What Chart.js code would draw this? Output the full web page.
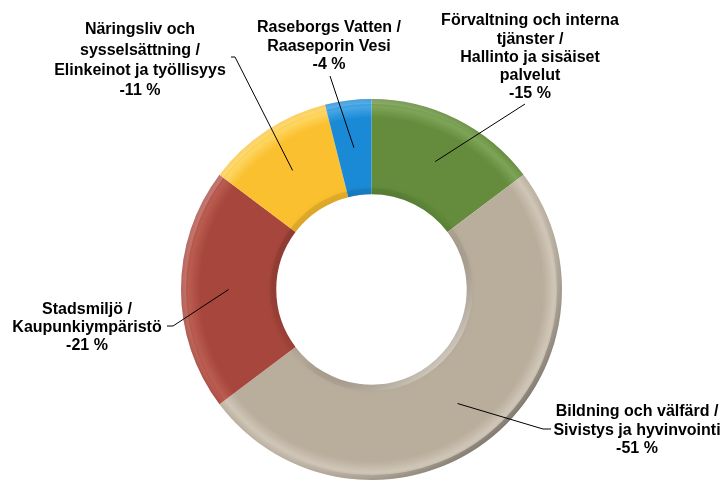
<!DOCTYPE html>
<html lang="sv">
  <head>
    <meta charset="UTF-8"/>
    <title>Andel per sektor</title>
    <style>
      html, body { margin: 0; padding: 0; background: #fff; }
      #wrap { width: 723px; height: 484px; }
    </style>
  </head>
  <body>
  <div id="wrap">
    <canvas id="myChart" width="723" height="484"></canvas>
  </div>
  <script src="https://cdn.jsdelivr.net/npm/chart.js"></script>
  <script>
    // slices, clockwise from 12 o'clock
    var categories = [
      ['Förvaltning och interna', 'tjänster /', 'Hallinto ja sisäiset', 'palvelut'],
      ['Bildning och välfärd /', 'Sivistys ja hyvinvointi'],
      ['Stadsmiljö /', 'Kaupunkiympäristö'],
      ['Näringsliv och', 'sysselsättning /', 'Elinkeinot ja työllisyys'],
      ['Raseborgs Vatten /', 'Raaseporin Vesi']
    ];
    var values = [-15, -51, -21, -11, -4];

    // [light, base, dark] per slice
    var shades = [
      ['#7ea458', '#648c3c', '#5a8236'],
      ['#d0c6b7', '#b9ad9c', '#b0a493'],
      ['#bb5c51', '#a6463c', '#9c4037'],
      ['#fdd660', '#fbc030', '#f2b72a'],
      ['#46a6e6', '#1a8ad6', '#1782cb']
    ];

    // text centre x, first line y, line step, leader line points (text side)
    var labelPos = [
      { x: 530, y: 21, step: 18.2, line: [[525, 104]] },
      { x: 637, y: 412, step: 18.5, line: [[543, 429], [551, 429]] },
      { x: 87, y: 310, step: 18, line: [[173, 326], [167, 326]] },
      { x: 140, y: 30, step: 20.3, line: [[235, 57], [231, 57]] },
      { x: 329, y: 28, step: 18.5, line: [[330, 76]] }
    ];

    function ring(chart) {
      var ca = chart.chartArea;
      var r = Math.min(ca.right - ca.left, ca.bottom - ca.top) / 2;
      return { cx: (ca.left + ca.right) / 2, cy: (ca.top + ca.bottom) / 2, r: r };
    }

    function shade(ctx) {
      var s = shades[ctx.dataIndex];
      if (!ctx.chart.chartArea) return s[1];
      var g0 = ring(ctx.chart);
      var g = ctx.chart.ctx.createRadialGradient(g0.cx, g0.cy, 0, g0.cx, g0.cy, g0.r);
      g.addColorStop(0.5, s[2]);
      g.addColorStop(0.55, s[1]);
      g.addColorStop(0.9, s[1]);
      g.addColorStop(0.96, s[0]);
      g.addColorStop(1, s[1]);
      return g;
    }

    // soft bevel: light from top-left, shadow to bottom-right
    const bevelPlugin = {
      id: 'bevel',
      afterDatasetsDraw(chart) {
        var c = chart.ctx;
        var g0 = ring(chart);
        var d = g0.r * 0.75;
        c.save();
        var outer = c.createLinearGradient(g0.cx - d, g0.cy - d, g0.cx + d, g0.cy + d);
        outer.addColorStop(0, 'rgba(255,255,255,0.25)');
        outer.addColorStop(0.5, 'rgba(255,255,255,0)');
        outer.addColorStop(1, 'rgba(0,0,0,0.35)');
        c.strokeStyle = outer;
        c.lineWidth = 5;
        c.beginPath();
        c.arc(g0.cx, g0.cy, g0.r - 2.5, 0, Math.PI * 2);
        c.stroke();
        var inner = c.createLinearGradient(g0.cx - d / 2, g0.cy - d / 2, g0.cx + d / 2, g0.cy + d / 2);
        inner.addColorStop(0, 'rgba(0,0,0,0.1)');
        inner.addColorStop(0.5, 'rgba(0,0,0,0)');
        inner.addColorStop(1, 'rgba(255,255,255,0.35)');
        c.strokeStyle = inner;
        c.lineWidth = 6;
        c.beginPath();
        c.arc(g0.cx, g0.cy, g0.r * 0.5 + 3, 0, Math.PI * 2);
        c.stroke();
        c.restore();
      }
    };

    const calloutPlugin = {
      id: 'callouts',
      afterDraw(chart) {
        var c = chart.ctx;
        var arcs = chart.getDatasetMeta(0).data;
        c.save();
        c.strokeStyle = '#000';
        c.lineWidth = 1;
        arcs.forEach(function (arc, i) {
          var p = arc.tooltipPosition();
          c.beginPath();
          c.moveTo(p.x, p.y);
          labelPos[i].line.forEach(function (q) { c.lineTo(q[0], q[1]); });
          c.stroke();
        });
        c.fillStyle = '#000';
        c.font = 'bold 16px "Liberation Sans", Arial, sans-serif';
        c.textAlign = 'center';
        c.textBaseline = 'middle';
        categories.forEach(function (lines, i) {
          var pos = labelPos[i];
          lines.concat([values[i] + ' %']).forEach(function (t, k) {
            c.fillText(t, pos.x, pos.y + k * pos.step);
          });
        });
        c.restore();
      }
    };

    const data = {
      labels: categories,
      datasets: [{
        data: values,
        backgroundColor: shade,
        borderWidth: 0
      }]
    };

    const config = {
      type: 'doughnut',
      data,
      options: {
        responsive: false,
        animation: false,
        cutout: '50%',
        layout: { padding: { top: 99, bottom: 4, left: 20, right: 0 } },
        plugins: {
          legend: { display: false },
          tooltip: { enabled: false }
        }
      },
      plugins: [bevelPlugin, calloutPlugin]
    };
    var myChart = new Chart(document.getElementById('myChart'), config);
  </script>
  </body>
</html>
